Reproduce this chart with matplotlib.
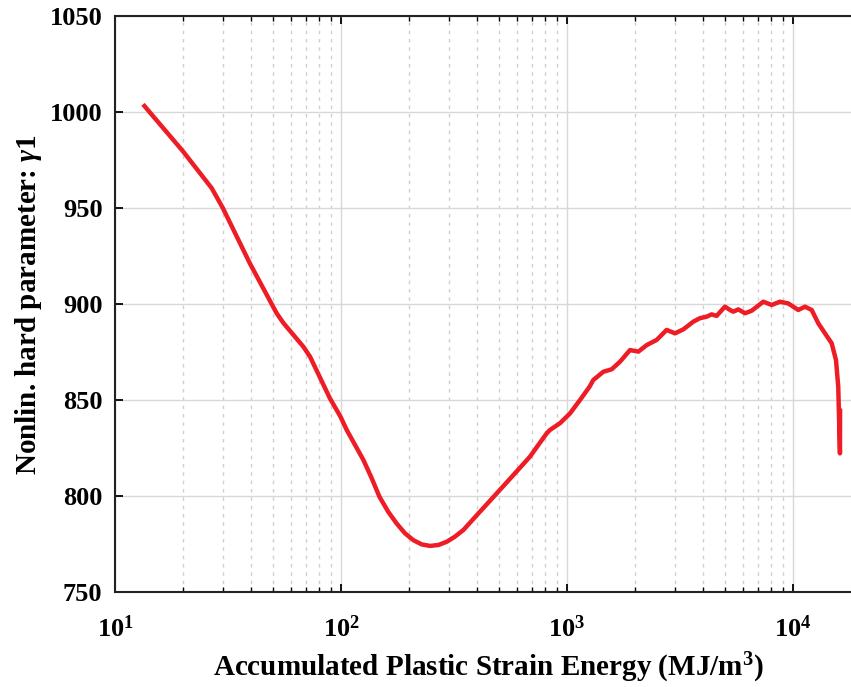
import math
import matplotlib
matplotlib.use("Agg")
import matplotlib.pyplot as plt
from matplotlib.ticker import LogLocator, NullFormatter, FuncFormatter

# Accumulated plastic strain energy (MJ/m^3) and nonlinear hardening parameter gamma1
energy = [13.3, 20.0, 26.8, 30.0, 39.5, 51.9, 55.7, 68.1, 73.0, 89.3, 99.5, 106,
          125.6, 136.8, 148, 161.8, 176, 191.8, 209, 227.5, 248, 270, 294, 319,
          348, 412, 489, 579, 686, 747, 813, 841, 931, 1031, 1142, 1260, 1307,
          1448, 1577, 1718, 1900, 2070, 2253, 2495, 2760, 3006, 3273, 3623,
          3874, 4151, 4365, 4592, 5000, 5265, 5445, 5728, 6140, 6567, 7390,
          8050, 8760, 9530, 10550, 11300, 12100, 12950, 13860, 14840, 15500,
          15860, 16140, 16160]
gamma1 = [1004.0, 979.5, 960.3, 950.0, 921.2, 895.2, 890.0, 877.8, 872.5, 850.9,
          841.3, 834.4, 818.8, 809.2, 799.6, 791.8, 785.8, 780.6, 777.0, 774.8,
          774.0, 774.5, 776.2, 778.8, 782.3, 791.8, 801.4, 810.9, 820.5, 826.6,
          832.6, 834.4, 837.9, 843.0, 850.0, 857.0, 860.4, 864.7, 866.0, 870.0,
          876.0, 875.2, 878.6, 881.3, 886.5, 884.7, 886.8, 890.8, 892.6, 893.4,
          894.6, 893.8, 898.6, 896.9, 896.0, 897.2, 895.2, 896.5, 901.2, 899.5,
          901.2, 900.3, 896.9, 898.6, 896.9, 889.9, 884.7, 879.5, 870.8, 857.0,
          822.2, 845.6]

x_limits = (10, 2.0e4)
y_limits = (750, 1050)
y_ticks = [750, 800, 850, 900, 950, 1000, 1050]

plt.rcParams["font.family"] = ["Liberation Serif", "DejaVu Serif"]
plt.rcParams["font.weight"] = "bold"
plt.rcParams["mathtext.fontset"] = "custom"
plt.rcParams["mathtext.rm"] = "Liberation Serif:bold"
plt.rcParams["mathtext.bf"] = "Liberation Serif:bold"
plt.rcParams["mathtext.it"] = "Liberation Serif:italic"

fig = plt.figure(figsize=(8.51, 6.87), dpi=100)
ax = fig.add_axes([115 / 851, 95 / 687, 746 / 851, 576 / 687])

ax.plot(energy, gamma1, color="#ee1c25", lw=3.2, solid_joinstyle="round",
        solid_capstyle="butt", zorder=3)

ax.set_xscale("log")
ax.set_xlim(*x_limits)
ax.set_ylim(*y_limits)
ax.set_yticks(y_ticks)
ax.xaxis.set_major_locator(LogLocator(base=10, numticks=10))
ax.xaxis.set_major_formatter(
    FuncFormatter(lambda v, pos: r"$\mathbf{10^{%d}}$" % round(math.log10(v))))
ax.xaxis.set_minor_locator(LogLocator(base=10, subs=range(2, 10), numticks=20))
ax.xaxis.set_minor_formatter(NullFormatter())

ax.grid(True, which="major", color="#d8d8d8", lw=1.0, ls="-", zorder=0)
ax.grid(True, which="minor", axis="x", color="#cfcfcf", lw=1.0, ls=(0, (2.5, 3.5)), zorder=0)

for side in ("left", "bottom", "top"):
    ax.spines[side].set_linewidth(1.5)
    ax.spines[side].set_color("#222222")
ax.spines["right"].set_visible(False)

ax.tick_params(which="major", direction="in", length=6, width=1.3, top=True,
               labelsize=19, pad=9)
ax.tick_params(which="minor", direction="in", length=3.5, width=1.0, top=True)
ax.tick_params(axis="x", which="major", pad=17)
for lab in ax.get_yticklabels():
    lab.set_fontweight("bold")

ax.set_xlabel("Accumulated Plastic Strain Energy (MJ/m$^{3}$)",
              fontsize=21, fontweight="bold", labelpad=6)
ax.set_ylabel("Nonlin. hard parameter: $\\gamma$1", fontsize=21, fontweight="bold",
              labelpad=4)

fig.savefig("out.png", dpi=100)
